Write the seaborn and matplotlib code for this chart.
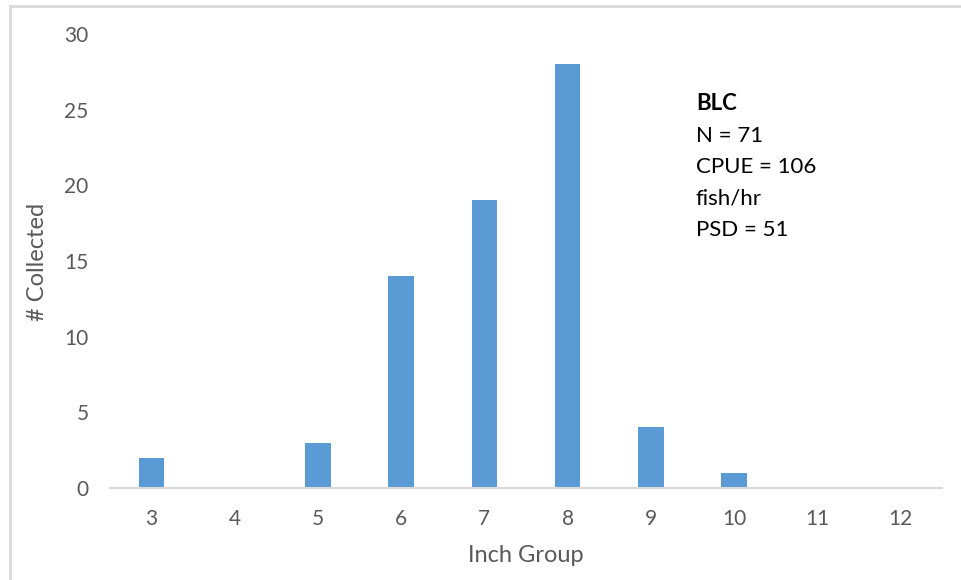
import matplotlib
matplotlib.use("Agg")
import matplotlib.pyplot as plt
import seaborn as sns
import pandas as pd
from matplotlib.patches import Rectangle

categories = ["3", "4", "5", "6", "7", "8", "9", "10", "11", "12"]
collected = [2, 0, 3, 14, 19, 28, 4, 1, 0, 0]
y_ticks = [0, 5, 10, 15, 20, 25, 30]
note_title = "BLC"
note_lines = ["N = 71", "CPUE = 106", "fish/hr", "PSD = 51"]

sns.set_theme(style="white")
plt.rcParams['font.family'] = ['Lato', 'DejaVu Sans']

df = pd.DataFrame({"Inch Group": categories, "Collected": collected})

fig = plt.figure(figsize=(9.61, 5.8), dpi=100)
ax = fig.add_axes([110/961, 1-488/580, (942-110)/961, (488-34)/580])

sns.barplot(data=df, x="Inch Group", y="Collected", order=categories,
            color="#5B9BD5", saturation=1, width=0.31, linewidth=0, ax=ax)

ax.set_ylim(0, 30)
ax.set_xlim(-0.5, len(categories) - 0.5)
ax.set_yticks(y_ticks)
ax.set_yticklabels([str(t) for t in y_ticks])
for s in ["top", "right", "left"]:
    ax.spines[s].set_visible(False)
ax.spines["bottom"].set_color("#D9D9D9")
ax.spines["bottom"].set_linewidth(1.5)
ax.tick_params(axis="both", length=0, labelsize=15, colors="#595959")
ax.tick_params(axis="y", pad=15.5)
ax.tick_params(axis="x", pad=15)
ax.set_xlabel("Inch Group", fontsize=17, color="#595959")
ax.set_ylabel("# Collected", fontsize=17, color="#595959")
ax.xaxis.label.set_va("center")
ax.yaxis.label.set_va("center")
ax.xaxis.set_label_coords(0.5, -(556 - 488) / 454)
ax.yaxis.set_label_coords((38 - 110) / 832, (488 - 262) / 454)

fig.text(696/961, 1-104/580, note_title, fontsize=16, fontweight="bold",
         color="black", va="center", ha="left")
for i, line in enumerate(note_lines):
    fig.text(696/961, 1-(104+31.6*(i+1))/580, line, fontsize=16,
             color="black", va="center", ha="left")

fig.patches.append(Rectangle((10/961, -0.05), 1.1, 1.05 - 6/580,
                             transform=fig.transFigure, fill=False,
                             edgecolor="#D9D9D9", linewidth=2, figure=fig))

fig.savefig("out.png", dpi=100)
